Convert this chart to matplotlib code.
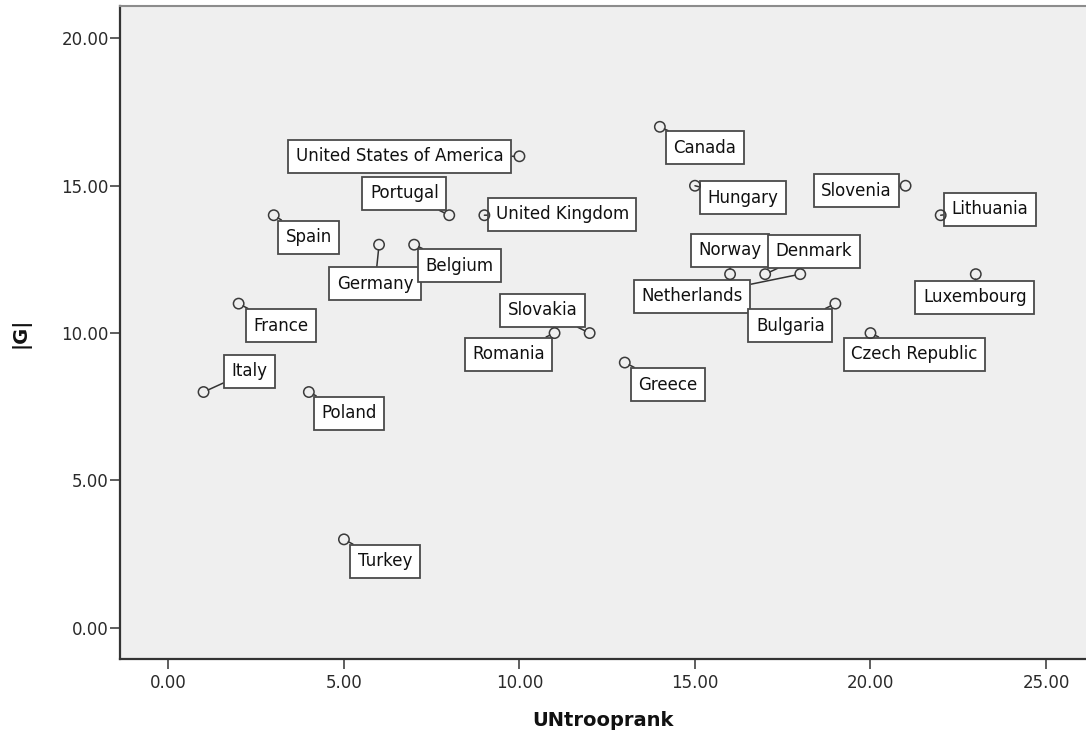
import numpy as np
import matplotlib
matplotlib.use("Agg")
import matplotlib.pyplot as plt

# data
countries = ["Italy", "France", "Spain", "Poland", "Turkey", "Germany",
             "Belgium", "Portugal", "United Kingdom", "United States of America",
             "Romania", "Slovakia", "Greece", "Canada", "Hungary", "Norway",
             "Denmark", "Netherlands", "Bulgaria", "Czech Republic",
             "Slovenia", "Lithuania", "Luxembourg"]
un_troop_rank = [1, 2, 3, 4, 5, 6, 7, 8, 9, 10, 11, 12, 13, 14, 15, 16,
                 17, 18, 19, 20, 21, 22, 23]
g_abs = [8, 11, 14, 8, 3, 13, 13, 14, 14, 16, 10, 10, 9, 17, 15, 12,
         12, 12, 11, 10, 15, 14, 12]
x_ticks = [0, 5, 10, 15, 20, 25]
y_ticks = [0, 5, 10, 15, 20]

# where each label box sits, relative to its point (pixels, y up)
label_offset = {
    "Italy": (46, 21), "France": (42, -22), "Spain": (35, -22),
    "Poland": (40, -21), "Turkey": (41, -22), "Germany": (-4, -39),
    "Belgium": (45, -21), "Portugal": (-45, 22), "United Kingdom": (78, 1),
    "United States of America": (-120, 0), "Romania": (-46, -21),
    "Slovakia": (-47, 23), "Greece": (43, -22), "Canada": (45, -21),
    "Hungary": (48, -12), "Norway": (0, 24), "Denmark": (49, 23),
    "Netherlands": (-108, -22), "Bulgaria": (-45, -22),
    "Czech Republic": (44, -21), "Slovenia": (-49, -5),
    "Lithuania": (49, 6), "Luxembourg": (-1, -23),
}

W, H = 1086, 733
fig = plt.figure(figsize=(W / 100, H / 100), dpi=100)
ax = fig.add_axes([120 / W, 74 / H, 966 / W, 653 / H])
ax.set_facecolor("#efefef")

ax.set_xlim(-1.38, 26.14)
ax.set_ylim(-1.06, 21.10)

ax.scatter(un_troop_rank, g_abs, s=56, facecolors="none",
           edgecolors="#3a3a3a", linewidths=1.1, zorder=4)

for name, xv, yv in zip(countries, un_troop_rank, g_abs):
    ax.annotate(name, xy=(xv, yv), xytext=label_offset[name],
                textcoords="offset pixels", ha="center", va="center",
                fontsize=12, color="#111111",
                bbox=dict(boxstyle="square,pad=0.45", fc="white",
                          ec="#4a4a4a", lw=1.3),
                arrowprops=dict(arrowstyle="-", color="#333333", lw=1.1,
                                shrinkA=0, shrinkB=3.6),
                zorder=3)

ax.set_xticks(x_ticks, labels=[f"{v:.2f}" for v in x_ticks])
ax.set_yticks(y_ticks, labels=[f"{v:.2f}" for v in y_ticks])
ax.tick_params(axis="both", direction="out", length=7, width=1.1,
               color="#333333", labelcolor="#2a2a2a", labelsize=12)
ax.tick_params(axis="y", pad=1)
ax.tick_params(axis="x", pad=3.5)

for side in ["left", "bottom"]:
    ax.spines[side].set_color("#333333")
    ax.spines[side].set_linewidth(1.6)
ax.spines["top"].set_color("#8c8c8c")
ax.spines["top"].set_linewidth(1.5)
ax.spines["right"].set_visible(False)

ax.set_xlabel("UNtrooprank", fontsize=14, fontweight="bold",
              color="#111111", labelpad=14)
ax.set_ylabel("|G|", fontsize=14, fontweight="bold", color="#111111",
              labelpad=22)

fig.savefig("out.png", dpi=100)
